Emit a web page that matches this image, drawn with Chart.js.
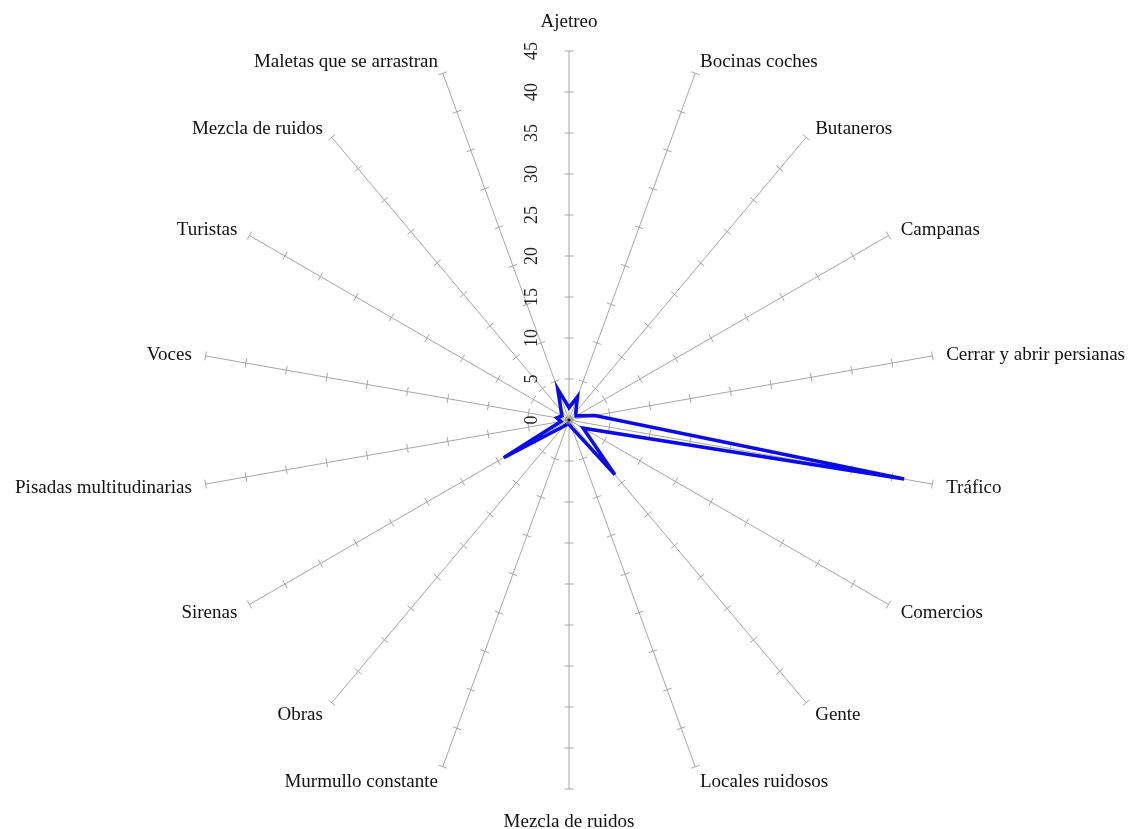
<!DOCTYPE html>
<html>
<head>
<meta charset="utf-8">
<script src="https://cdn.jsdelivr.net/npm/chart.js@4/dist/chart.umd.min.js"></script>
<style>
  html, body { margin: 0; padding: 0; background: #ffffff; }
  #wrap { width: 1129px; height: 829px; }
</style>
</head>
<body>
<div id="wrap"><canvas id="radar" width="1129" height="829"></canvas></div>
<script>
// Spoke names, clockwise from the top
const categories = [
  "Ajetreo", "Bocinas coches", "Butaneros", "Campanas", "Cerrar y abrir persianas",
  "Tráfico", "Comercios", "Gente", "Locales ruidosos", "Mezcla de ruidos",
  "Murmullo constante", "Obras", "Sirenas", "Pisadas multitudinarias", "Voces",
  "Turistas", "Mezcla de ruidos", "Maletas que se arrastran"
];

// Mentions per category
const values = [
  1.5, 3.0, 1.3, 1.0, 3.2,
  41.5, 2.0, 8.7, 1.0, 0.5,
  0.5, 1.0, 9.2, 1.0, 1.5,
  1.0, 1.5, 4.0
];

// Scale ticks shown on the vertical axis
const tickValues = [0, 5, 10, 15, 20, 25, 30, 35, 40, 45];
const axisMin = 0;
const axisMax = 45;

const SERIF = '"Liberation Serif", "DejaVu Serif", serif';
const SPOKE_COLOR = '#a6a6a6';

// Spoke tick marks, value labels, category names and the centre marker
const spokeDecor = {
  id: 'spokeDecor',
  beforeDatasetsDraw(chart) {
    const scale = chart.scales.r;
    const ctx = chart.ctx;
    const n = chart.data.labels.length;
    ctx.save();
    ctx.strokeStyle = SPOKE_COLOR;
    ctx.lineWidth = 1;
    for (let i = 0; i < n; i++) {
      for (const v of tickValues) {
        if (v === 0) continue;
        const d = scale.getDistanceFromCenterForValue(v);
        const p = scale.getPointPosition(i, d);
        const px = -Math.sin(p.angle), py = Math.cos(p.angle);
        const half = 4.5;
        ctx.beginPath();
        ctx.moveTo(p.x - px * half, p.y - py * half);
        ctx.lineTo(p.x + px * half, p.y + py * half);
        ctx.stroke();
      }
    }
    // value labels along the upper vertical spoke, rotated
    ctx.fillStyle = '#222222';
    ctx.font = '18px ' + SERIF;
    ctx.textAlign = 'center';
    ctx.textBaseline = 'middle';
    for (const v of tickValues) {
      const d = scale.getDistanceFromCenterForValue(v);
      ctx.save();
      ctx.translate(scale.xCenter - 37, scale.yCenter - d);
      ctx.rotate(-Math.PI / 2);
      ctx.fillText(String(v), 0, 0);
      ctx.restore();
    }
    ctx.restore();
  },
  afterDraw(chart) {
    const scale = chart.scales.r;
    const ctx = chart.ctx;
    const labels = chart.data.labels;
    const n = labels.length;
    ctx.save();
    // centre marker
    ctx.fillStyle = 'rgba(150,150,150,0.55)';
    ctx.beginPath();
    ctx.arc(scale.xCenter, scale.yCenter, 4.5, 0, Math.PI * 2);
    ctx.fill();
    ctx.fillStyle = '#111111';
    ctx.beginPath();
    ctx.arc(scale.xCenter, scale.yCenter, 1.6, 0, Math.PI * 2);
    ctx.fill();

    // category names
    ctx.fillStyle = '#111111';
    ctx.font = '19px ' + SERIF;
    ctx.textBaseline = 'middle';
    const outer = scale.getDistanceFromCenterForValue(axisMax);
    for (let i = 0; i < n; i++) {
      const deg = i * 360 / n;
      let dist = outer + 14;
      let align;
      if (deg === 0 || deg === 180) { align = 'center'; dist = outer + 31; }
      else if (deg < 180) align = 'left';
      else align = 'right';
      const p = scale.getPointPosition(i, dist);
      ctx.textAlign = align;
      ctx.fillText(labels[i], p.x, p.y + 2);
    }
    ctx.restore();
  }
};

new Chart(document.getElementById('radar'), {
  type: 'radar',
  data: {
    labels: categories,
    datasets: [{
      data: values,
      borderColor: '#0b0bea',
      borderWidth: 3.6,
      borderJoinStyle: 'miter',
      backgroundColor: 'rgba(0,0,0,0)',
      fill: false,
      pointRadius: 0,
      pointHoverRadius: 0,
      tension: 0
    }]
  },
  options: {
    responsive: false,
    devicePixelRatio: 1,
    animation: false,
    layout: { padding: { top: 51, bottom: 40, left: 200, right: 191 } },
    plugins: {
      legend: { display: false },
      tooltip: { enabled: false },
      title: { display: false }
    },
    scales: {
      r: {
        min: axisMin,
        max: axisMax,
        beginAtZero: true,
        grid: { display: false },
        angleLines: { display: true, color: SPOKE_COLOR, lineWidth: 1 },
        ticks: { display: false, stepSize: 5 },
        pointLabels: { display: false }
      }
    }
  },
  plugins: [spokeDecor]
});
</script>
</body>
</html>
